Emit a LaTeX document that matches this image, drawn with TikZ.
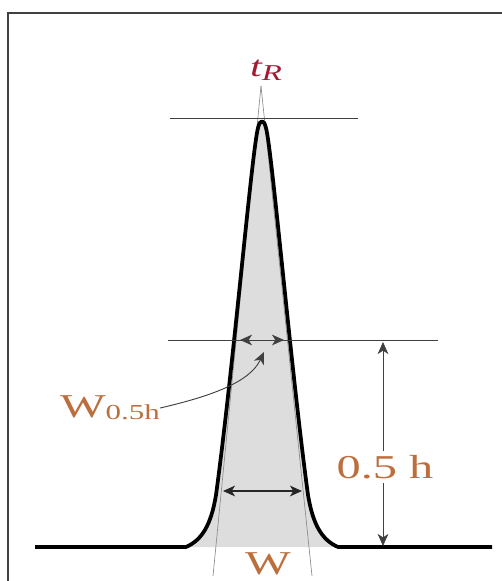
\documentclass[tikz,border=0pt]{standalone}
\usepackage{fontspec}
\setmainfont{Liberation Serif}
\usetikzlibrary{arrows.meta,positioning}

\definecolor{labelbrown}{RGB}{188,110,60}
\definecolor{labelred}{RGB}{160,28,52}
\definecolor{peakfill}{RGB}{221,221,221}
\newcommand{\widetext}[1]{\scalebox{1.45}[1]{#1}}
\newcommand{\peakpath}{(35,547) -- (186,547) .. controls (202,540) and (211,525) .. (216,495)
  .. controls (233,370) and (252,150) .. (258,128) .. controls (260,119) and (264,119) .. (266,128)
  .. controls (272,150) and (291,370) .. (308,495) .. controls (313,525) and (322,540) .. (338,547)
  -- (492,547)}

\begin{document}
\begin{tikzpicture}[x=0.75pt,y=-0.75pt,
  thinline/.style={draw=black!75, line width=0.7pt},
  tangentline/.style={draw=black!45, line width=0.5pt},
  dimarrow/.style={thinline, {Stealth[length=9pt,width=8pt,inset=2.5pt]}-{Stealth[length=9pt,width=8pt,inset=2.5pt]}},
  peakline/.style={line width=2.8pt, line join=round},
  lbl/.style={text=labelbrown, font=\fontsize{25}{28}\selectfont, inner sep=0pt}]
\useasboundingbox (0,0) rectangle (501,581);
% frame
\draw[black!75, line width=2pt] (8,590) -- (8,13) -- (510,13);
% peak area and tangents
\fill[peakfill] \peakpath -- cycle;
\coordinate (tip) at (261,86);
\coordinate (tanL) at (213,576);
\coordinate (tanR) at (312,576);
\draw[tangentline] (tip) -- (tanL);
\draw[tangentline] (tip) -- (tanR);
\draw[peakline] \peakpath;
% reference lines
\draw[thinline] (170,118) -- (358,118);
\draw[thinline] (168,340) -- (438,340);
% widths
\coordinate (halfL) at (240,340);
\coordinate (halfR) at (284,340);
\draw[dimarrow] (halfL) -- (halfR);
\coordinate (baseL) at (223,491);
\coordinate (baseR) at (302,491);
\draw[dimarrow, line width=1.4pt, draw=black!85] (baseL) -- (baseR);
% height
\coordinate (hTop) at (383,342);
\coordinate (hBot) at (383,546);
\draw[dimarrow] (hTop) -- (hBot);
% labels
\node (tR) at (266,70) [text=labelred, font=\fontsize{22}{26}\selectfont\itshape, inner sep=0pt]
  {\widetext{t\raisebox{-0.12em}{\fontsize{17}{20}\selectfont R}}};
\node (halfH) at (385,467) [lbl, fill=white, inner sep=3pt] {\widetext{0.5 h}};
\node (wBase) at (268,564) [lbl] {\widetext{W}};
\node (wHalf) at (110,408) [lbl] {\widetext{W\raisebox{-0.05em}{\fontsize{16}{18}\selectfont 0.5h}}};
\coordinate (halfMid) at (264,352);
\draw[thinline, -{Stealth[length=9pt,width=8pt,inset=2.5pt]}] (wHalf.east) .. controls (212,396) and (250,382) .. (halfMid);
\end{tikzpicture}
\end{document}
